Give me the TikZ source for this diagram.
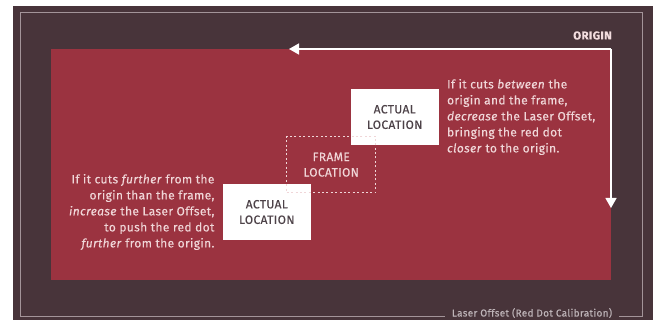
\documentclass[tikz,border=0pt]{standalone}
\usepackage{fontspec}
\setmainfont{Fira Sans}[FakeBold=0.25]
\newfontfamily\dinfont{Fira Sans}[FakeBold=0.25, LetterSpace=3]
\usepackage{tikz}
\usetikzlibrary{arrows.meta,positioning}
\definecolor{plum}{HTML}{48343A}
\definecolor{crimson}{HTML}{9B3340}
\definecolor{rimgray}{HTML}{A39499}
\definecolor{blush}{HTML}{F0D6D8}
\definecolor{inkgray}{HTML}{4D4248}

\begin{document}
\begin{tikzpicture}[
  x=1pt, y=-1pt,
  loc/.style={fill=white, minimum width=88pt, minimum height=56pt, inner sep=0pt, align=center, text=inkgray, font=\dinfont\fontsize{12}{15.5}\selectfont},
  framebox/.style={draw=blush, line width=1.4pt, dash pattern=on 2pt off 2.4pt, minimum width=89pt, minimum height=56pt, inner sep=0pt, align=center, text=blush, font=\dinfont\fontsize{12}{15.5}\selectfont},
  note/.style={inner sep=0pt, text=blush, font=\dinfont\fontsize{12}{16}\selectfont},
  arrow/.style={-{Triangle[length=10pt,width=11pt]}, line width=1.4pt, white},
  tag/.style={inner sep=0pt, text=blush!85!white, font=\dinfont\fontsize{11.5}{12}\selectfont\bfseries},
]
\useasboundingbox (0,0) rectangle (653,320);

% background, outer rim and red field
\fill[plum] (13,6) rectangle (653,320);
\draw[rimgray, line width=1pt] (20,13) rectangle (642,316);
\fill[crimson] (51,49) rectangle (611,280);

\node[fill=plum, inner xsep=7pt, inner ysep=3pt, text=rimgray!70!white, font=\dinfont\fontsize{10}{11}\selectfont] (caption) at (532,313) {Laser Offset (Red Dot Calibration)};

% origin and arrows
\coordinate (corner) at (611,49);
\coordinate (leftend) at (289,49);
\coordinate (downend) at (611,208);
\node[tag, anchor=east] (origin) at (612,35.5) {ORIGIN};
\draw[arrow] (corner) -- (leftend);
\draw[arrow] (corner) -- (downend);

% locations
\node[loc] (actualtop) at (394.7,117) {ACTUAL\\LOCATION};
\node[loc] (actuallow) at (266.8,212) {ACTUAL\\LOCATION};
\node[framebox] (frameloc) at (331.2,164.7) {FRAME\\LOCATION};

% notes
\node[note, align=left, right=8pt of actualtop] (between) {If it cuts \emph{between} the\\origin and the frame,\\\emph{decrease} the Laser Offset,\\bringing the red dot\\\emph{closer} to the origin.};
\node[note, align=right, left=8pt of actuallow] (further) {If it cuts \emph{further} from the\\origin than the frame,\\\emph{increase} the Laser Offset,\\to push the red dot\\\emph{further} from the origin.};

\end{tikzpicture}
\end{document}
